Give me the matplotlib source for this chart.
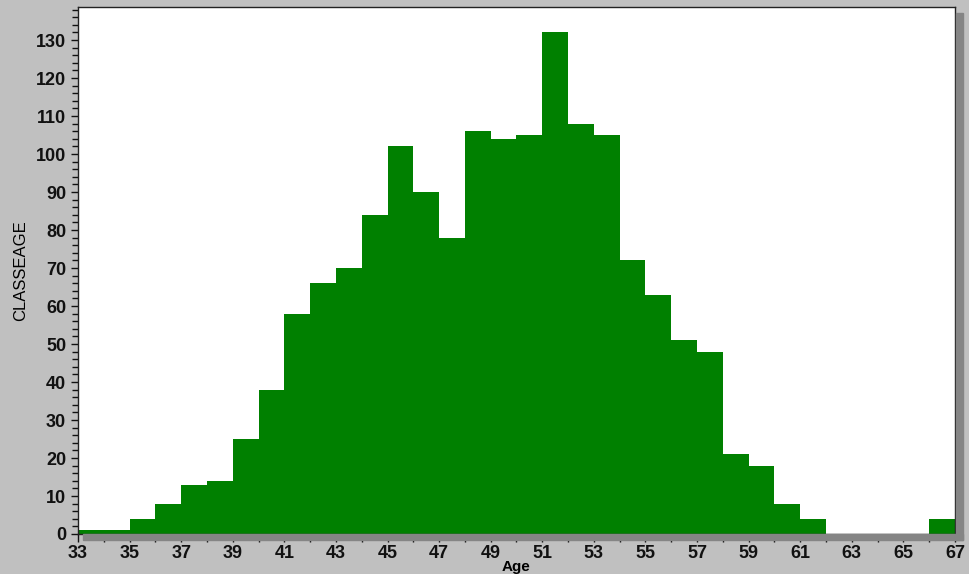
import matplotlib.pyplot as plt
from matplotlib.patches import Rectangle
from matplotlib.ticker import MultipleLocator

# bornes des classes d'age et effectifs
ages = list(range(33, 67))
effectifs = [1, 1, 4, 8, 13, 14, 25, 38, 58, 66, 70, 84, 102, 90, 78, 106,
             104, 105, 132, 108, 105, 72, 63, 51, 48, 21, 18, 8, 4, 0, 0, 0, 0, 4]
xticks = list(range(33, 68, 2))
yticks = list(range(0, 131, 10))

plt.rcParams['font.family'] = ['Liberation Sans', 'DejaVu Sans']

fig = plt.figure(figsize=(9.69, 5.74), dpi=100, facecolor='#c0c0c0')
ax = fig.add_axes([78 / 969, 40 / 574, 877 / 969, 527 / 574])

# ombre grise a droite et en bas de la zone de trace
fig.patches.append(Rectangle((956 / 969, 34 / 574), 7 / 969, 527 / 574,
                             transform=fig.transFigure, color='#858585', zorder=0))
fig.patches.append(Rectangle((83 / 969, 34 / 574), 880 / 969, 6 / 574,
                             transform=fig.transFigure, color='#858585', zorder=0))

ax.bar(ages, effectifs, width=1.0, align='edge', color='#008000', linewidth=0)

ax.set_xlim(33, 67)
ax.set_ylim(0, 138.7)
ax.set_xticks(xticks)
ax.xaxis.set_minor_locator(MultipleLocator(1))
ax.set_yticks(yticks)
ax.yaxis.set_minor_locator(MultipleLocator(2))

ax.tick_params(axis='both', which='both', direction='out', width=1,
               colors='#111111')
ax.tick_params(axis='x', which='major', labelsize=13)
ax.tick_params(axis='y', which='major', labelsize=13)
ax.tick_params(axis='x', which='both', length=5.5, pad=2.5)
ax.tick_params(axis='y', which='major', length=5, pad=3.5)
ax.tick_params(axis='y', which='minor', length=4)
for lab in ax.get_xticklabels() + ax.get_yticklabels():
    lab.set_fontweight('bold')

for s in ax.spines.values():
    s.set_color('#222222')
    s.set_linewidth(1)

ax.set_ylabel('CLASSEAGE', fontsize=12)
ax.yaxis.set_label_coords(-50 / 877, 0.5)
ax.set_xlabel('Age', fontsize=11, fontweight='bold')
ax.xaxis.set_label_coords(0.5, -26 / 527)

fig.savefig('out.png', dpi=100, facecolor=fig.get_facecolor())
